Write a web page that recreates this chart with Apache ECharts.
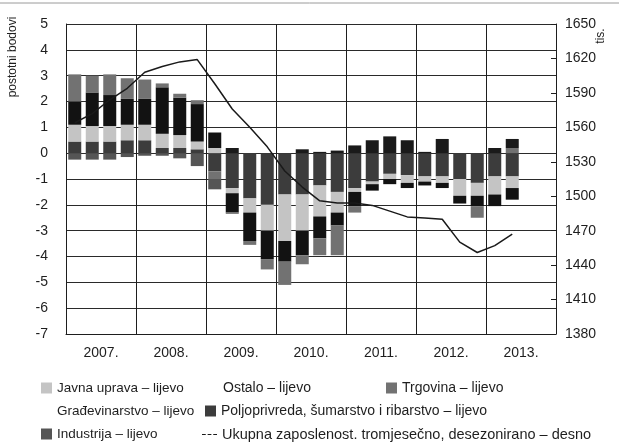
<!DOCTYPE html>
<html>
<head>
<meta charset="utf-8">
<script src="https://cdn.jsdelivr.net/npm/echarts@6/dist/echarts.min.js"></script>
<style>
  html, body { margin: 0; padding: 0; background: #fff; }
</style>
</head>
<body>
<div id="container" style="width:619px; height:448px"></div>
<script>
// godine i tromjesečja
var years = ['2007.', '2008.', '2009.', '2010.', '2011.', '2012.', '2013.'];
var quarters = [];
years.forEach(function (y) {
  for (var q = 1; q <= 4; q++) quarters.push(y + ' Q' + q);
});

// doprinosi, postotni bodovi (lijevo)
var poljoprivreda = [0.45, 0.45, 0.45, 0.5, 0.5, 0.2, 0.2, 0.15, -0.7, -1.35, -1.75, -2.0, -1.6, -1.6, -1.25, -1.5, -1.35, -1.1, -0.8, -0.85, -0.9, -0.9, -1.0, -1.15, -0.9, -0.9];
var javnaUprava = [0.65, 0.6, 0.6, 0.6, 0.6, 0.55, 0.5, 0.3, 0.2, -0.2, -0.55, -1.0, -1.8, -1.4, -1.2, -0.8, -0.15, -0.1, -0.2, -0.3, -0.2, -0.25, -0.65, -0.5, -0.7, -0.45];
var gradevinarstvo = [0.9, 1.3, 1.2, 1.0, 1.0, 1.8, 1.45, 1.45, 0.6, -0.75, -1.1, -1.1, -0.8, -0.95, -0.85, -0.5, -0.55, -0.25, -0.2, -0.2, -0.15, -0.2, -0.3, -0.4, -0.45, -0.45];
var trgovina = [1.05, 0.65, 0.8, 0.8, 0.75, 0.15, 0.15, 0.15, -0.3, -0.05, -0.15, -0.4, -0.9, -0.35, -0.65, -1.15, -0.25, 0, 0, 0, 0, 0, 0, -0.45, 0, 0.2];
var industrija = [-0.25, -0.25, -0.25, -0.15, -0.1, -0.1, -0.2, -0.5, -0.4, 0, 0, 0, 0, 0, 0, 0, 0, 0, 0, 0, 0, 0, 0, 0, 0, 0];
var ostalo = [0, 0, 0, 0, 0, 0, 0, 0, 0, 0.2, 0, 0, 0, 0.15, 0.05, 0.1, 0.3, 0.5, 0.65, 0.5, 0.05, 0.55, 0, 0, 0.2, 0.35];

// ukupna zaposlenost, tis. (desno)
var ukupno = [1564, 1572, 1584, 1594, 1608, 1613, 1617, 1619, 1598, 1576, 1560, 1543, 1522, 1508, 1496, 1494, 1494, 1492, 1487, 1482, 1481, 1480, 1460, 1451, 1457, 1467];

var FONT = 'Liberation Sans';
var INK = '#1e1e1e';

function bar(name, data, color) {
  return {
    name: name,
    type: 'bar',
    stack: 'sektori',
    data: data,
    barWidth: 13,
    itemStyle: { color: color },
    emphasis: { disabled: true }
  };
}

function legendItem(name, left, top, hideIcon, size) {
  var item = { name: name };
  if (hideIcon) item.itemStyle = { opacity: 0 };
  return {
    left: left,
    top: top,
    data: [item],
    icon: 'rect',
    itemWidth: 11,
    itemHeight: 11,
    selectedMode: false,
    textStyle: { color: INK, fontFamily: FONT, fontSize: size || 14 }
  };
}

var option = {
  backgroundColor: '#fff',
  animation: false,
  grid: { left: 66, right: 63, top: 24, bottom: 114 },
  legend: [
    legendItem('Javna uprava – lijevo', 36, 376, false, 13.5),
    legendItem('Ostalo – lijevo', 202, 376, true),
    legendItem('Trgovina – lijevo', 381, 376),
    legendItem('Građevinarstvo – lijevo', 36, 399, true, 13.5),
    legendItem('Poljoprivreda, šumarstvo i ribarstvo – lijevo', 200, 399),
    legendItem('Industrija – lijevo', 36, 422, false, 13.5),
    {
      left: 197,
      top: 422,
      data: ['Ukupna zaposlenost. tromjesečno, desezonirano – desno'],
      icon: 'path://M0,0h4v1h-4z M6,0h4v1h-4z M12,0h4v1h-4z',
      itemWidth: 15,
      itemHeight: 2,
      selectedMode: false,
      textStyle: { color: INK, fontFamily: FONT, fontSize: 14.5 }
    }
  ],
  xAxis: [
    {
      type: 'category',
      data: quarters,
      show: false
    },
    {
      type: 'category',
      data: years,
      position: 'bottom',
      axisLine: { lineStyle: { color: INK, width: 1 } },
      axisTick: { show: false },
      axisLabel: { color: INK, fontFamily: FONT, fontSize: 14, margin: 12 },
      splitLine: { show: true, lineStyle: { color: INK, width: 1 } }
    }
  ],
  yAxis: [
    {
      type: 'value',
      min: -7,
      max: 5,
      interval: 1,
      axisLine: { show: true, lineStyle: { color: INK } },
      axisTick: { show: false },
      axisLabel: { color: INK, fontFamily: FONT, fontSize: 14, margin: 18 },
      splitLine: { show: true, lineStyle: { color: '#2a2a2a', width: 1 } }
    },
    {
      type: 'value',
      min: 1380,
      max: 1650,
      interval: 30,
      position: 'right',
      axisLine: { show: true, lineStyle: { color: INK } },
      axisTick: { show: true, inside: true, length: 5, lineStyle: { color: INK } },
      axisLabel: {
        color: INK, fontFamily: FONT, fontSize: 14, margin: 9,
        formatter: function (v) { return String(v); }
      },
      splitLine: { show: false }
    }
  ],
  series: [
    bar('Poljoprivreda, šumarstvo i ribarstvo – lijevo', poljoprivreda, '#3c3c3c'),
    bar('Javna uprava – lijevo', javnaUprava, '#c4c4c4'),
    bar('Građevinarstvo – lijevo', gradevinarstvo, '#121212'),
    bar('Trgovina – lijevo', trgovina, '#727272'),
    bar('Industrija – lijevo', industrija, '#555555'),
    bar('Ostalo – lijevo', ostalo, '#1a1a1a'),
    {
      name: 'Ukupna zaposlenost. tromjesečno, desezonirano – desno',
      type: 'line',
      yAxisIndex: 1,
      data: ukupno,
      symbol: 'none',
      lineStyle: { color: '#1a1a1a', width: 1.5 },
      itemStyle: { color: '#1a1a1a' },
      z: 5
    }
  ],
  graphic: [
    {
      type: 'line',
      shape: { x1: 0, y1: 3, x2: 619, y2: 3 },
      style: { stroke: '#9a9a9a', lineWidth: 1 }
    },
    {
      type: 'text',
      x: 13,
      y: 57,
      rotation: Math.PI / 2,
      style: { text: 'postotni bodovi', fontFamily: FONT, fontSize: 12, fill: INK, align: 'center', verticalAlign: 'middle' }
    },
    {
      type: 'text',
      x: 601,
      y: 36,
      rotation: Math.PI / 2,
      style: { text: 'tis.', fontFamily: FONT, fontSize: 12, fill: INK, align: 'center', verticalAlign: 'middle' }
    }
  ]
};

var dom = document.getElementById('container');
var myChart = echarts.init(dom);
myChart.setOption(option, true);
</script>
</body>
</html>
